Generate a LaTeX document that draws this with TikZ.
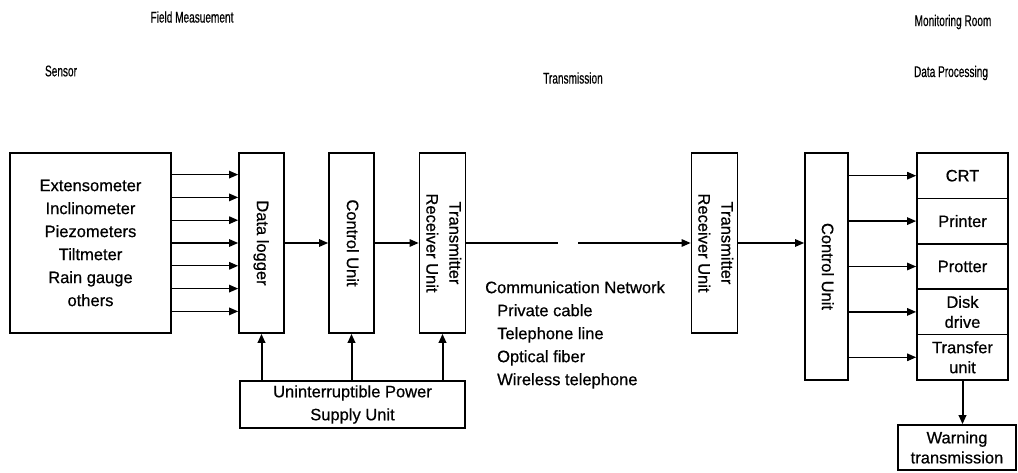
\documentclass[tikz,border=0pt]{standalone}
\usepackage{fontspec}
\usepackage{graphicx}
\setmainfont{Liberation Sans}[FakeBold=0.6]
\usetikzlibrary{arrows.meta,calc}

\tikzset{
  box/.style={draw, line width=1.7pt, inner sep=0pt, align=center,
              font=\fontsize{16.5}{23}\selectfont},
  cell/.style={box, minimum width=91, minimum height=45.4,
               font=\fontsize{16.5}{20}\selectfont},
  arr/.style={-{Triangle[length=9pt,width=7.5pt]}, line width=1.3pt},
  power/.style={arr, line width=2pt},
  plain/.style={line width=1.3pt},
  head/.style={inner sep=0pt, font=\fontsize{15.5}{18}\selectfont},
  note/.style={inner sep=0pt, align=left, font=\fontsize{16.5}{23}\selectfont}
}
\newcommand{\vtext}[1]{\rotatebox{-90}{\begin{tabular}{@{}c@{}}#1\end{tabular}}}
\newcommand{\narrow}[1]{\scalebox{0.65}[1]{#1}}

\begin{document}
\begin{tikzpicture}[x=1pt, y=-1pt]
  \useasboundingbox (0,0) rectangle (1018,473);

  % headings
  \node[head] (hfield)   at (192,17) {\narrow{Field Measuement}};
  \node[head] (hmon)     at (953,22) {\narrow{Monitoring Room}};
  \node[head] (hsensor)  at (61,71)  {\narrow{Sensor}};
  \node[head] (htrans)   at (573,78) {\narrow{Transmission}};
  \node[head] (hproc)    at (951,73) {\narrow{Data Processing}};

  % field side
  \node[box, minimum width=161, minimum height=180] (sensor) at (90.5,243)
    {Extensometer\\Inclinometer\\Piezometers\\Tiltmeter\\Rain gauge\\others};
  \node[box, minimum width=45, minimum height=180] (dl)  at (261.5,243) {\vtext{Data logger}};
  \node[box, minimum width=45, minimum height=180] (cu1) at (351.5,243) {\vtext{Control Unit}};
  \node[box, minimum width=45, minimum height=180] (tr1) at (442.5,243)
    {\vtext{Transmitter\\Receiver Unit}};
  \node[box, minimum width=225, minimum height=47] (ups) at (352.5,404.5)
    {Uninterruptible Power\\Supply Unit};

  % monitoring side
  \node[box, minimum width=46, minimum height=180] (tr2) at (714.5,243)
    {\vtext{Transmitter\\Receiver Unit}};
  \node[box, minimum width=43, minimum height=227] (cu2) at (826.5,266.5) {\vtext{Control Unit}};
  \node[cell] (crt)   at (962.5,175.7) {CRT};
  \node[cell] (prn)   at (962.5,221.1) {Printer};
  \node[cell] (plt)   at (962.5,266.5) {Protter};
  \node[cell] (disk)  at (962.5,311.9) {Disk\\drive};
  \node[cell] (xfer)  at (962.5,357.3) {Transfer\\unit};
  \node[box, minimum width=118, minimum height=45, font=\fontsize{16.5}{20}\selectfont]
    (warn) at (957,447.5) {Warning\\transmission};

  % network description
  \node[note, anchor=north west] (net) at (485,281)
    {Communication Network\\
     \hspace*{12pt}Private cable\\
     \hspace*{12pt}Telephone line\\
     \hspace*{12pt}Optical fiber\\
     \hspace*{12pt}Wireless telephone};

  % sensor signals into the data logger
  \foreach \i in {-3,...,3}
    \draw[arr] ($(sensor.east)+(0,\i*22.8)$) -- ($(dl.west)+(0,\i*22.8)$);

  % field chain
  \draw[arr] (dl.east) -- (cu1.west);
  \draw[arr] (cu1.east) -- (tr1.west);

  % power supply
  \draw[power] (ups.north -| dl.south) -- (dl.south);
  \draw[power] (ups.north -| cu1.south) -- (cu1.south);
  \draw[power] (ups.north -| tr1.south) -- (tr1.south);

  % communication link with a break
  \coordinate (gapL) at (558,243);
  \coordinate (gapR) at (578,243);
  \draw[plain] (tr1.east) -- (gapL);
  \draw[arr] (gapR) -- (tr2.west);

  % monitoring room
  \draw[arr] (tr2.east) -- (tr2.east -| cu2.west);
  \foreach \c in {crt,prn,plt,disk,xfer}
    \draw[arr] (\c.west -| cu2.east) -- (\c.west);
  \draw[power] (xfer.south) -- (xfer.south |- warn.north);
\end{tikzpicture}
\end{document}
